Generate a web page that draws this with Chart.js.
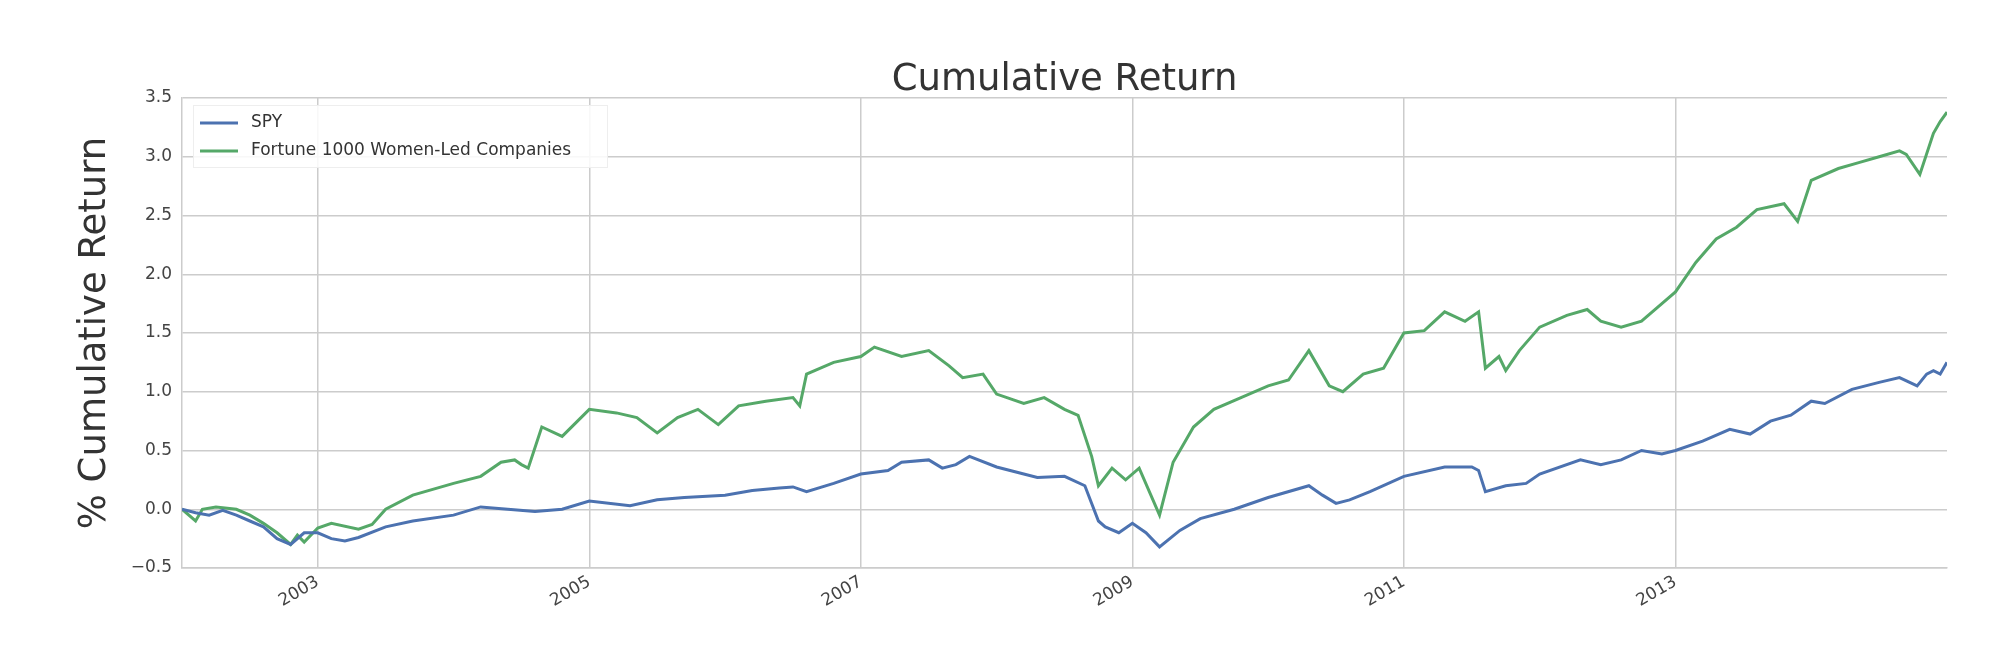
<!DOCTYPE html>
<html><head><meta charset="utf-8">
<script src="https://cdn.jsdelivr.net/npm/chart.js@4/dist/chart.umd.min.js"></script>
<style>html,body{margin:0;padding:0;background:#fff}#w{width:2016px;height:670px}</style>
</head><body><div id="w"><canvas id="c"></canvas></div>
<script>
const titleText = "Cumulative Return";
const yTitle = "% Cumulative Return";
const yearTicks = [2003, 2005, 2007, 2009, 2011, 2013];
const yTicks = [-0.5, 0, 0.5, 1, 1.5, 2, 2.5, 3, 3.5];
const seriesLabels = ["SPY", "Fortune 1000 Women-Led Companies"];

const spyX = [2002.0,2002.1,2002.2,2002.3,2002.4,2002.5,2002.6,2002.7,2002.8,2002.9,2003.0,2003.1,2003.2,2003.3,2003.5,2003.7,2004.0,2004.2,2004.4,2004.6,2004.8,2005.0,2005.3,2005.5,2005.7,2006.0,2006.2,2006.4,2006.5,2006.6,2006.8,2007.0,2007.2,2007.3,2007.5,2007.6,2007.7,2007.8,2008.0,2008.2,2008.3,2008.5,2008.65,2008.75,2008.8,2008.9,2009.0,2009.1,2009.2,2009.35,2009.5,2009.75,2010.0,2010.3,2010.4,2010.5,2010.6,2010.75,2011.0,2011.3,2011.5,2011.55,2011.6,2011.75,2011.9,2012.0,2012.3,2012.45,2012.6,2012.75,2012.9,2013.0,2013.2,2013.4,2013.55,2013.7,2013.85,2014.0,2014.1,2014.3,2014.5,2014.65,2014.78,2014.85,2014.9,2014.95,2015.0];
const spyY = [0.0,-0.03,-0.05,-0.01,-0.05,-0.1,-0.15,-0.25,-0.3,-0.2,-0.2,-0.25,-0.27,-0.24,-0.15,-0.1,-0.05,0.02,0.0,-0.02,0.0,0.07,0.03,0.08,0.1,0.12,0.16,0.18,0.19,0.15,0.22,0.3,0.33,0.4,0.42,0.35,0.38,0.45,0.36,0.3,0.27,0.28,0.2,-0.1,-0.15,-0.2,-0.12,-0.2,-0.32,-0.18,-0.08,0.0,0.1,0.2,0.12,0.05,0.08,0.15,0.28,0.36,0.36,0.33,0.15,0.2,0.22,0.3,0.42,0.38,0.42,0.5,0.47,0.5,0.58,0.68,0.64,0.75,0.8,0.92,0.9,1.02,1.08,1.12,1.05,1.15,1.18,1.15,1.25];

const womX = [2002.0,2002.1,2002.15,2002.25,2002.4,2002.5,2002.6,2002.7,2002.8,2002.85,2002.9,2003.0,2003.1,2003.3,2003.4,2003.5,2003.7,2004.0,2004.2,2004.35,2004.45,2004.5,2004.55,2004.65,2004.8,2005.0,2005.2,2005.35,2005.5,2005.65,2005.8,2005.95,2006.1,2006.3,2006.5,2006.55,2006.6,2006.8,2007.0,2007.1,2007.3,2007.5,2007.65,2007.75,2007.9,2008.0,2008.2,2008.35,2008.5,2008.6,2008.7,2008.75,2008.85,2008.95,2009.05,2009.2,2009.3,2009.45,2009.6,2009.8,2010.0,2010.15,2010.3,2010.45,2010.55,2010.7,2010.85,2011.0,2011.15,2011.3,2011.45,2011.55,2011.6,2011.7,2011.75,2011.85,2012.0,2012.2,2012.35,2012.45,2012.6,2012.75,2012.9,2013.0,2013.15,2013.3,2013.45,2013.6,2013.8,2013.9,2014.0,2014.2,2014.35,2014.5,2014.65,2014.7,2014.8,2014.9,2014.95,2015.0];
const womY = [0.0,-0.1,0.0,0.02,0.0,-0.05,-0.12,-0.2,-0.3,-0.22,-0.28,-0.16,-0.12,-0.17,-0.13,0.0,0.12,0.22,0.28,0.4,0.42,0.38,0.35,0.7,0.62,0.85,0.82,0.78,0.65,0.78,0.85,0.72,0.88,0.92,0.95,0.88,1.15,1.25,1.3,1.38,1.3,1.35,1.22,1.12,1.15,0.98,0.9,0.95,0.85,0.8,0.45,0.2,0.35,0.25,0.35,-0.05,0.4,0.7,0.85,0.95,1.05,1.1,1.35,1.05,1.0,1.15,1.2,1.5,1.52,1.68,1.6,1.68,1.2,1.3,1.18,1.35,1.55,1.65,1.7,1.6,1.55,1.6,1.75,1.85,2.1,2.3,2.4,2.55,2.6,2.45,2.8,2.9,2.95,3.0,3.05,3.02,2.85,3.2,3.3,3.38];

const COLORS = ["#4c72b0", "#55a868"];
const pts = (xs, ys) => xs.map((x, i) => ({x: x, y: ys[i]}));
const F = "'DejaVu Sans', sans-serif";

const deco = {
  id: 'deco',
  afterDraw(chart) {
    const ctx = chart.ctx, a = chart.chartArea;
    ctx.save();
    ctx.fillStyle = "#333";
    ctx.font = "37px " + F;
    ctx.textAlign = "center"; ctx.textBaseline = "middle";
    ctx.fillText(titleText, (a.left + a.right) / 2, 80);
    ctx.save();
    ctx.translate(95, (a.top + a.bottom) / 2);
    ctx.rotate(-Math.PI / 2);
    ctx.font = "37px " + F;
    ctx.fillText(yTitle, 0, 0);
    ctx.restore();
    const lx = 193, ly = 105, lw = 414, lh = 62;
    ctx.fillStyle = "rgba(255,255,255,0.85)";
    ctx.fillRect(lx, ly, lw, lh);
    ctx.strokeStyle = "#eeeeee"; ctx.lineWidth = 1;
    ctx.strokeRect(lx + 0.5, ly + 0.5, lw, lh);
    ctx.font = "17px " + F; ctx.textAlign = "left";
    seriesLabels.forEach((t, i) => {
      const y = ly + 18 + i * 28;
      ctx.strokeStyle = COLORS[i]; ctx.lineWidth = 3;
      ctx.beginPath(); ctx.moveTo(lx + 7, y); ctx.lineTo(lx + 45, y); ctx.stroke();
      ctx.fillStyle = "#333";
      ctx.fillText(t, lx + 58, y);
    });
    ctx.restore();
  }
};

new Chart(document.getElementById('c'), {
  type: 'line',
  data: { datasets: [
    { label: seriesLabels[0], data: pts(spyX, spyY), borderColor: COLORS[0], borderWidth: 3, pointRadius: 0, tension: 0 },
    { label: seriesLabels[1], data: pts(womX, womY), borderColor: COLORS[1], borderWidth: 3, pointRadius: 0, tension: 0 }
  ]},
  options: {
    animation: false, responsive: true, maintainAspectRatio: false, devicePixelRatio: 1,
    layout: { padding: { top: 98, right: 69, left: 0, bottom: 0 } },
    plugins: { legend: { display: false }, title: { display: false }, tooltip: { enabled: false } },
    scales: {
      x: {
        type: 'linear', min: 2002.0, max: 2015.0,
        afterBuildTicks: s => { s.ticks = yearTicks.map(v => ({value: v})); },
        afterFit: s => { s.height = 102; },
        ticks: { minRotation: 30, maxRotation: 30, color: "#444", font: { size: 17, family: F }, callback: v => String(v), padding: 4 },
        grid: { color: "#cccccc", lineWidth: 1.5, drawTicks: false },
        border: { color: "#cccccc", width: 1.5 }
      },
      y: {
        min: -0.5, max: 3.5,
        afterBuildTicks: s => { s.ticks = yTicks.map(v => ({value: v})); },
        afterFit: s => { s.width = 182; },
        ticks: { color: "#444", font: { size: 17, family: F }, padding: 10,
          callback: v => (v < 0 ? "\u2212" : "") + Math.abs(v).toFixed(1) },
        grid: { color: "#cccccc", lineWidth: 1.5, drawTicks: false },
        border: { color: "#cccccc", width: 1.5 }
      }
    }
  },
  plugins: [deco]
});
</script></body></html>
